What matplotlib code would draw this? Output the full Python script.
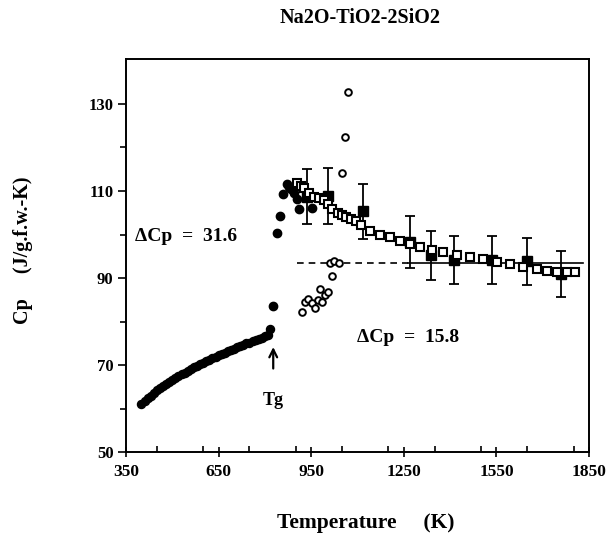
import matplotlib
matplotlib.use("Agg")
import matplotlib.pyplot as plt
from matplotlib.ticker import MultipleLocator, FixedLocator

# ---- data ----
glass_T = [400, 410, 420, 430, 440, 450, 460, 470, 480, 490, 500, 510, 520, 530,
           540, 550, 560, 570, 580, 590, 600, 610, 620, 630, 640, 650, 660, 670,
           680, 690, 700, 710, 720, 730, 740, 750, 760, 770, 780, 790, 800, 810, 818]
glass_Cp = [61.0, 61.7, 62.4, 63.0, 63.6, 64.2, 64.7, 65.2, 65.7, 66.2, 66.6, 67.0,
            67.5, 67.9, 68.3, 68.7, 69.1, 69.5, 69.9, 70.2, 70.6, 70.9, 71.3, 71.6,
            71.9, 72.3, 72.6, 72.9, 73.2, 73.5, 73.8, 74.1, 74.4, 74.7, 75.0, 75.2,
            75.5, 75.8, 76.1, 76.3, 76.6, 77.0, 78.2]

liq_T = [827, 838, 849, 860, 870, 878, 886, 894, 903, 911, 951]
liq_Cp = [83.6, 100.4, 104.3, 109.3, 111.6, 111.0, 110.5, 109.6, 108.1, 105.8, 106.0]

open_T = [919, 930, 941, 952, 962, 973, 978, 984, 994, 1005, 1011, 1016, 1025, 1041,
          1051, 1058, 1069]
open_Cp = [82.2, 84.6, 85.1, 84.2, 83.1, 85.0, 87.4, 84.4, 86.1, 86.9, 93.5, 90.5,
           94.0, 93.5, 114.1, 122.3, 132.7]

sq_T = [903, 917, 928, 944, 960, 976, 992, 1005, 1019, 1036, 1049, 1063, 1079, 1095,
        1111, 1140, 1173, 1205, 1238, 1270, 1302, 1340, 1378, 1421, 1464, 1507, 1551,
        1594, 1637, 1680, 1713, 1745, 1778, 1805]
sq_Cp = [111.8, 111.2, 110.6, 109.5, 108.7, 108.3, 107.9, 107.0, 105.8, 105.0, 104.5,
         104.1, 103.5, 103.0, 102.2, 100.7, 99.9, 99.5, 98.6, 97.8, 97.1, 96.5, 95.9,
         95.3, 94.8, 94.3, 93.8, 93.2, 92.6, 92.1, 91.7, 91.5, 91.3, 91.3]

fsq_T = [938, 1005, 1119, 1270, 1337, 1414, 1535, 1648, 1759]
fsq_Cp = [108.7, 108.9, 105.3, 98.3, 95.2, 94.2, 94.2, 93.9, 91.0]
fsq_err = [6.3, 6.4, 6.3, 6.0, 5.7, 5.5, 5.5, 5.4, 5.3]

ref_Cp = 93.5
dash_T = [905, 1265]
solid_T = [1265, 1830]

xticks = [350, 650, 950, 1250, 1550, 1850]
yticks = [50, 70, 90, 110, 130]

serif = ["Liberation Serif", "DejaVu Serif"]
plt.rcParams['font.family'] = serif
plt.rcParams['font.weight'] = 'bold'

fig = plt.figure(figsize=(6.13, 5.35), dpi=100)
ax = fig.add_axes([126/613, 1 - 452.3/535, (589-126)/613, (452.3-59)/535])

ax.plot(dash_T, [ref_Cp, ref_Cp], color='black', lw=1.2, ls=(0, (4, 3)), zorder=1)
ax.plot(solid_T, [ref_Cp, ref_Cp], color='black', lw=1.2, zorder=1)

ax.errorbar(fsq_T, fsq_Cp, yerr=fsq_err, fmt='s', color='black', ms=7,
            capsize=3.5, elinewidth=1.3, capthick=1.3, zorder=3)
ax.plot(sq_T, sq_Cp, 's', mfc='white', mec='black', mew=1.5, ms=5.6, zorder=4)
ax.plot(glass_T, glass_Cp, 'o', color='black', ms=5.8, zorder=2)
ax.plot(liq_T, liq_Cp, 'o', color='black', ms=6.0, zorder=2)
ax.plot(open_T, open_Cp, 'o', mfc='white', mec='black', mew=1.4, ms=4.8, zorder=2)

ax.set_xlim(350, 1850)
ax.set_ylim(50, 140.3)
ax.xaxis.set_major_locator(FixedLocator(xticks))
ax.xaxis.set_minor_locator(MultipleLocator(150))
ax.yaxis.set_major_locator(FixedLocator(yticks))
ax.yaxis.set_minor_locator(FixedLocator([60, 80, 100, 120]))
ax.set_xticklabels([str(t) for t in xticks])
ax.set_yticklabels([str(t) for t in yticks])
ax.tick_params(axis='x', which='major', direction='inout', length=7, width=1.2,
               labelsize=12.5, pad=5)
ax.tick_params(axis='x', which='minor', direction='in', length=4, width=1.2)
ax.tick_params(axis='y', which='major', direction='out', length=6, width=1.2,
               labelsize=12, pad=3)
ax.tick_params(axis='y', which='minor', direction='out', length=4, width=1.2)
for lab in ax.get_xticklabels() + ax.get_yticklabels():
    lab.set_fontweight('bold')
for s in ax.spines.values():
    s.set_linewidth(1.4)

ax.text(379, 99.5, "ΔCp  =  31.6", fontsize=14, fontweight='bold', va='center', ha='left')
ax.text(1098, 76.4, "ΔCp  =  15.8", fontsize=14, fontweight='bold', va='center', ha='left')
ax.annotate("", xy=(827, 74.8), xytext=(827, 68.6),
            arrowprops=dict(arrowstyle='->', color='black', lw=1.6, mutation_scale=14))
ax.text(827, 62.0, "Tg", fontsize=13, fontweight='bold', ha='center', va='center')

fig.text(360/613, 1 - 18/535, "Na2O-TiO2-2SiO2", fontsize=14.5, fontweight='bold',
         ha='center', va='center')
fig.text(366/613, 1 - 523/535, "Temperature     (K)", fontsize=15.5, fontweight='bold',
         ha='center', va='center')
fig.text(23/613, 1 - 250/535, "Cp     (J/g.f.w.-K)", fontsize=14.5, fontweight='bold',
         ha='center', va='center', rotation=90)

fig.savefig("out.png", dpi=100)
